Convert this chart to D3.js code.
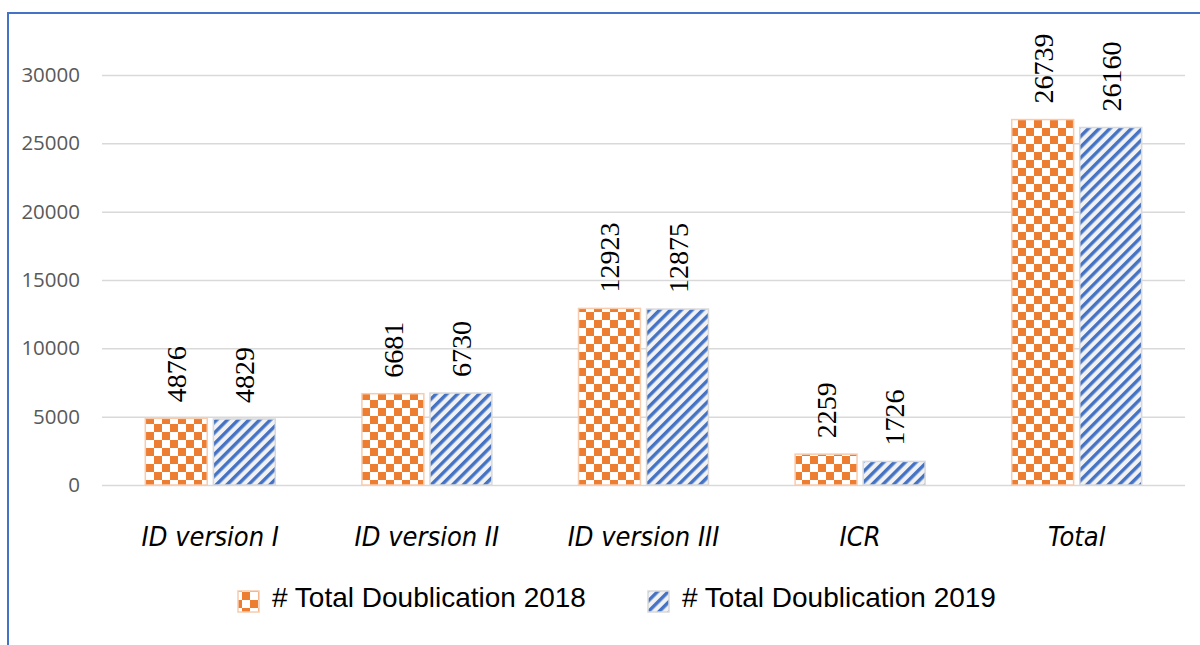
<!DOCTYPE html>
<html><head><meta charset="utf-8">
<script src="https://cdn.jsdelivr.net/npm/d3@7"></script>
<style>body{margin:0;background:#fff}svg{display:block}</style>
</head><body><svg id="c" width="1200" height="645"></svg>
<script>
const categories = ["ID version I","ID version II","ID version III","ICR","Total"];
const seriesNames = ["# Total Doublication 2018","# Total Doublication 2019"];
const values2018 = [4876,6681,12923,2259,26739];
const values2019 = [4829,6730,12875,1726,26160];
const yTicks = [0,5000,10000,15000,20000,25000,30000];

(function(){
const svg = d3.select("#c");
const defs = svg.append("defs");
// checker pattern
const chk = defs.append("pattern").attr("id","chk").attr("patternUnits","userSpaceOnUse")
  .attr("width",16).attr("height",16).attr("x",146).attr("y",0);
chk.append("rect").attr("width",16).attr("height",16).attr("fill","#fff");
chk.append("rect").attr("width",8).attr("height",8).attr("fill","#ed7d31");
chk.append("rect").attr("x",8).attr("y",8).attr("width",8).attr("height",8).attr("fill","#ed7d31");
// stripe pattern
const str = defs.append("pattern").attr("id","str").attr("patternUnits","userSpaceOnUse")
  .attr("width",7.6).attr("height",8).attr("patternTransform","rotate(45)");
str.append("rect").attr("width",7.6).attr("height",8).attr("fill","#f2f2f2");
str.append("rect").attr("width",3.4).attr("height",8).attr("fill","#4472c4");

const pl=102, pr=1185, pt=75, pb=485;
const x0 = d3.scaleBand().domain(categories).range([pl,pr]).paddingInner(0.4).paddingOuter(0.2);
const x1 = d3.scaleBand().domain(seriesNames).range([0,x0.bandwidth()]).paddingInner(0.09);
const y = d3.scaleLinear().domain([0,30000]).range([pb,pt]);

// border
svg.append("path").attr("d","M8,645 L8,13 L1200,13").attr("fill","none").attr("stroke","#4472c4").attr("stroke-width",2);

// grid
const yAxis = d3.axisLeft(y).tickValues(yTicks).tickSize(-(pr-pl)).tickPadding(22).tickFormat(d3.format("d"));
const ga = svg.append("g").attr("transform",`translate(${pl},0)`).call(yAxis);
ga.select(".domain").remove();
ga.selectAll(".tick line").attr("stroke","#d9d9d9").attr("stroke-width",1.5);
ga.selectAll(".tick text").attr("fill","#595959").style("font-family","'Open Sans'").style("font-size","20.5px");

const series = [values2018, values2019];
const fills = ["url(#chk)","url(#str)"];
const strokes = ["#f8cbad","#d9d9d9"];
const groups = svg.append("g");
series.forEach((vals,si)=>{
  const g = groups.append("g");
  g.selectAll("rect").data(vals).join("rect")
    .attr("x",(d,i)=>x0(categories[i])+x1(seriesNames[si]))
    .attr("y",d=>y(d))
    .attr("width",x1.bandwidth())
    .attr("height",d=>y(0)-y(d))
    .attr("fill",fills[si]).attr("stroke",strokes[si]).attr("stroke-width",1.5);
  g.selectAll("text").data(vals).join("text")
    .attr("transform",(d,i)=>`translate(${x0(categories[i])+x1(seriesNames[si])+x1.bandwidth()/2+10},${y(d)-16}) rotate(-90)`)
    .attr("text-anchor","start")
    .style("font-family","'Liberation Serif'").style("font-size","28px").attr("fill","#000")
    .text(d=>d);
});

// category labels
svg.append("g").selectAll("text").data(categories).join("text")
  .attr("x",d=>x0(d)+x0.bandwidth()/2).attr("y",546)
  .attr("text-anchor","middle")
  .style("font-family","'DejaVu Sans Condensed','DejaVu Sans'").style("font-style","italic").style("font-size","27px")
  .attr("fill","#000").text(d=>d);

// legend
const legX = [238, 648];
const lg = svg.append("g");
seriesNames.forEach((n,i)=>{
  lg.append("rect").attr("x",legX[i]).attr("y",591).attr("width",21).attr("height",21)
    .attr("fill",fills[i]).attr("stroke",strokes[i]).attr("stroke-width",1.5);
  lg.append("text").attr("x",legX[i]+34).attr("y",607)
    .style("font-family","'Liberation Sans'").style("font-size","28px").attr("fill","#000").text(n);
});
})();
</script></body></html>
